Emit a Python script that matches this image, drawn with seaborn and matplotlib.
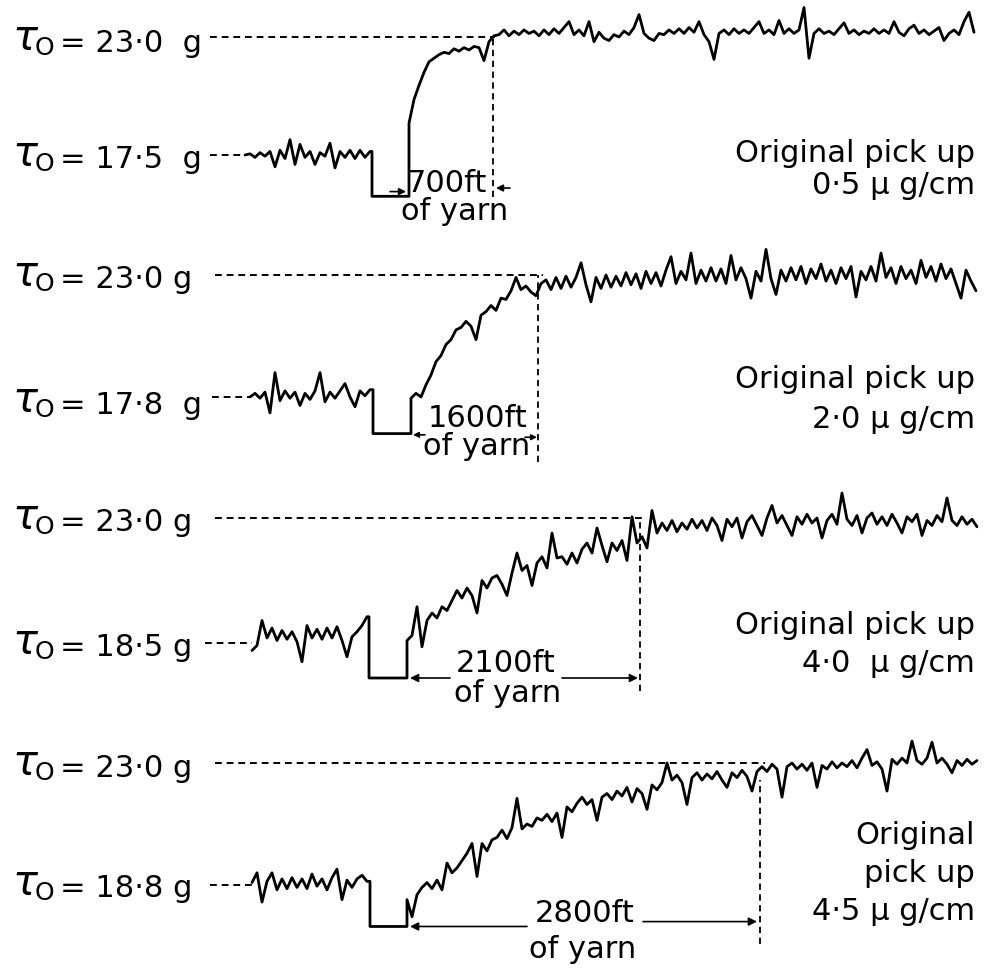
import numpy as np
import pandas as pd
import matplotlib
matplotlib.use("Agg")
import matplotlib.pyplot as plt
import seaborn as sns

# ---------------- data (tension recovery, % of the way from initial tension to 23.0 g) -------------
pickup = ["0·5", "2·0", "4·0", "4·5"]              # original pick up, ug/cm
initial_tension = ["17·5", "17·8", "18·5", "18·8"]  # g
final_tension = "23·0"                              # g
recovery_ft = ["700", "1600", "2100", "2800"]       # ft of yarn to recover

pre_05 = [0, 1, -2, 2, -1, 3, -10, 4, -3, 13, -8, 9, -2, 3, -8, 2, -1, 10, -11, 3, -2, 4, -3, 4, -2, 3]
post_05 = [27, 47, 59, 70, 79, 82, 85, 87, 86, 90,
           88, 91, 89, 92, 91, 80, 96, 101, 102, 106,
           101, 105, 102, 106, 103, 105, 101, 106, 102, 107,
           103, 108, 113, 102, 106, 101, 113, 96, 104, 99,
           97, 102, 100, 105, 102, 108, 119, 103, 99, 97,
           103, 102, 106, 103, 107, 103, 108, 104, 113, 102,
           96, 81, 103, 106, 102, 107, 103, 106, 103, 108,
           113, 103, 106, 102, 114, 103, 107, 103, 106, 125,
           82, 103, 107, 103, 105, 102, 107, 112, 103, 106,
           102, 105, 103, 107, 103, 106, 103, 113, 104, 101,
           107, 110, 103, 106, 102, 105, 108, 97, 103, 106,
           102, 113, 121, 104]

pre_20 = [0, 3, -1, 4, -13, 20, -3, 5, -1, 4, -7, 3, -2, 5, 20, -4, 4, -1, 5, 11, 0, -8, 5, 1, 6]
post_20 = [-1, 3, 0, 10, 18, 29, 34, 43, 47, 55,
           57, 62, 58, 47, 67, 70, 75, 71, 81, 80,
           87, 98, 88, 91, 86, 83, 93, 96, 88, 98,
           89, 99, 90, 98, 110, 92, 78, 98, 89, 100,
           90, 99, 91, 102, 92, 101, 89, 103, 93, 102,
           91, 104, 115, 93, 103, 96, 118, 93, 104, 95,
           106, 95, 105, 93, 116, 96, 106, 97, 81, 103,
           95, 121, 97, 84, 104, 95, 106, 96, 107, 93,
           105, 97, 109, 95, 104, 93, 106, 97, 107, 82,
           103, 96, 107, 95, 118, 98, 106, 93, 107, 97,
           104, 93, 112, 98, 107, 95, 109, 97, 105, 93,
           81, 104, 95, 87]

pre_40 = [-6, -2, 18, 4, 12, 2, 10, 3, 9, 1, -15, 14, 4, 11, 3, 12, 4, 13, 2, -11, 5, 9, 14, 21]
post_40 = [2, 6, 29, -3, 18, 24, 20, 29, 26, 34,
           42, 36, 44, 38, 24, 50, 44, 52, 54, 47,
           38, 56, 72, 58, 62, 46, 64, 69, 60, 88,
           68, 69, 63, 72, 64, 75, 80, 72, 92, 78,
           65, 80, 74, 82, 66, 101, 80, 85, 76, 106,
           88, 96, 90, 98, 89, 96, 91, 99, 92, 98,
           90, 100, 94, 82, 99, 93, 100, 84, 97, 102,
           94, 86, 100, 110, 96, 102, 94, 86, 101, 95,
           103, 96, 100, 84, 98, 103, 95, 120, 99, 94,
           102, 88, 100, 104, 95, 101, 94, 103, 96, 88,
           101, 97, 103, 86, 98, 94, 102, 97, 116, 98,
           94, 101, 95, 99, 93]

pre_45 = [2, 10, -14, 3, 10, -4, 5, -3, 6, -2, 5, -3, 9, -1, 5, -4, 6, 13, -12, 4, -2, 5, 8, 3]
post_45 = [-12, -26, -8, -2, 2, -3, 4, -4, 18, 10,
           14, 20, 26, 34, 7, 34, 28, 37, 39, 45,
           38, 47, 71, 46, 50, 48, 55, 53, 58, 52,
           59, 39, 64, 60, 67, 72, 66, 70, 53, 72,
           75, 70, 77, 73, 80, 68, 79, 75, 62, 82,
           78, 84, 100, 86, 90, 84, 66, 88, 92, 86,
           91, 87, 93, 86, 80, 92, 88, 94, 89, 77,
           93, 97, 93, 99, 95, 72, 97, 100, 95, 99,
           94, 100, 80, 98, 95, 101, 96, 100, 97, 102,
           96, 104, 111, 98, 101, 95, 77, 103, 99, 104,
           100, 118, 102, 99, 104, 117, 100, 104, 99, 92,
           102, 98, 103, 99, 102]

pre_traces = [pre_05, pre_20, pre_40, pre_45]
post_traces = [post_05, post_20, post_40, post_45]
zero_level = [-35, -30, -28, -34]      # pen level while the yarn is stopped

# ---------------- layout (pixels of the 988x968 picture) ----------------
W, H = 988, 968
layout = [
    dict(top=37, base=155, pre_x0=245, drop_x=372, rise_x=409, mark_x=493, mark_lo=-36, mark_hi=100,
         top_dash=(210, 495), base_dash=(210, 245),
         arrows=[((390, -31), (406, -31), 10), ((510, -28), (496, -28), 10)],
         ft_xy=(447, 183), yarn_xy=(455, 211),
         lab_top=41, lab_base=157, eq_top="= 23·0  g", eq_base="= 17·5  g",
         right=[("Original pick up", 153), ("0·5 μ g/cm", 186)]),
    dict(top=275, base=397, pre_x0=250, drop_x=373, rise_x=411, mark_x=538, mark_lo=-53, mark_hi=100,
         top_dash=(215, 543), base_dash=(212, 250),
         arrows=[((425, -31), (413, -31), 8), ((525, -33), (537, -33), 8)],
         ft_xy=(478, 418), yarn_xy=(477, 446),
         lab_top=277, lab_base=403, eq_top="= 23·0 g", eq_base="= 17·8  g",
         right=[("Original pick up", 380), ("2·0 μ g/cm", 420)]),
    dict(top=518, base=643, pre_x0=252, drop_x=369, rise_x=407, mark_x=640, mark_lo=-38, mark_hi=100,
         top_dash=(215, 643), base_dash=(205, 252),
         arrows=[((450, -28), (410, -28), 12), ((562, -28), (638, -28), 12)],
         ft_xy=(506, 664), yarn_xy=(508, 694),
         lab_top=520, lab_base=645, eq_top="= 23·0 g", eq_base="= 18·5 g",
         right=[("Original pick up", 626), ("4·0  μ g/cm", 664)]),
    dict(top=763, base=885, pre_x0=252, drop_x=370, rise_x=407, mark_x=760, mark_lo=-48, mark_hi=86,
         top_dash=(215, 765), base_dash=(210, 252),
         arrows=[((527, -34), (410, -34), 12), ((643, -30), (757, -30), 12)],
         ft_xy=(585, 913), yarn_xy=(583, 950),
         lab_top=766, lab_base=886, eq_top="= 23·0 g", eq_base="= 18·8 g",
         right=[("Original", 835), ("pick up", 873), ("4·5 μ g/cm", 912)]),
]

sns.set_theme(style="white")
plt.rcParams["font.family"] = ["DejaVu Sans"]

fig = plt.figure(figsize=(W / 100, H / 100), dpi=100)
fig.patch.set_facecolor("white")


def ftext(x, y, s, **kw):
    fig.text(x / W, 1 - y / H, s, color="black", **kw)


FS = 22
STEP = 5
dash = (0, (3.5, 2.5))

for i, L in enumerate(layout):
    ax = fig.add_axes([0, 1 - L["base"] / H, 1, (L["base"] - L["top"]) / H])
    ax.set_xlim(0, W)
    ax.set_ylim(0, 100)
    ax.set_axis_off()
    ax.patch.set_alpha(0)

    pre = pre_traces[i]
    post = post_traces[i]
    low = zero_level[i]
    xs = list(L["pre_x0"] + STEP * np.arange(len(pre))) + [L["drop_x"], L["drop_x"], L["rise_x"]] \
        + list(L["rise_x"] + STEP * np.arange(len(post)))
    ys = list(pre) + [pre[-1], low, low] + list(post)
    df = pd.DataFrame({"position": xs, "recovery": ys})
    sns.lineplot(data=df, x="position", y="recovery", sort=False, estimator=None,
                 color="black", linewidth=2.0, ax=ax)

    ax.hlines(100, *L["top_dash"], colors="black", linewidth=1.4, linestyles=dash)
    ax.hlines(0, *L["base_dash"], colors="black", linewidth=1.4, linestyles=dash)
    ax.vlines(L["mark_x"], L["mark_lo"], L["mark_hi"], colors="black", linewidth=1.3, linestyles=dash)
    for tail, tip, ms in L["arrows"]:
        ax.annotate("", xy=tip, xytext=tail, xycoords="data",
                    arrowprops=dict(arrowstyle="-|>", color="black", lw=1.2,
                                    mutation_scale=ms, shrinkA=0, shrinkB=0),
                    annotation_clip=False)
    for art in ax.get_children():
        try:
            art.set_clip_on(False)
        except Exception:
            pass

    # left labels
    for cy, eq in ((L["lab_top"], L["eq_top"]), (L["lab_base"], L["eq_base"])):
        ftext(12, cy + 9, "τ", fontsize=30, style="italic", va="baseline")
        ftext(35, cy + 14, "O", fontsize=18, va="baseline")
        ftext(60, cy + 11, eq, fontsize=FS, va="baseline")

    # distance annotation
    ftext(L["ft_xy"][0], L["ft_xy"][1], recovery_ft[i] + "ft", fontsize=FS, ha="center", va="center")
    ftext(L["yarn_xy"][0], L["yarn_xy"][1], "of yarn", fontsize=FS, ha="center", va="center")

    # right labels
    for s, y in L["right"]:
        ftext(975, y, s, fontsize=FS, ha="right", va="center")

fig.savefig("out.png", dpi=100, facecolor="white")
